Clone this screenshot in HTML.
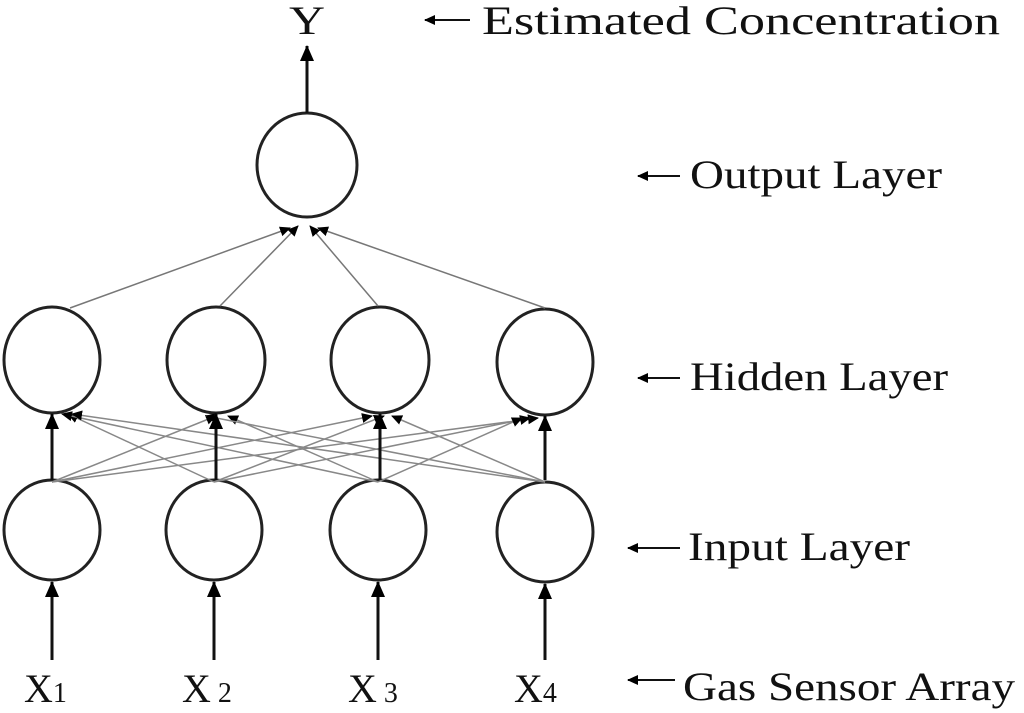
<!DOCTYPE html>
<html><head><style>
body{margin:0;background:#fff;}
svg{display:block;}
text{font-family:"Liberation Serif",serif;fill:#111;}
</style></head><body>
<svg width="1024" height="713" viewBox="0 0 1024 713" xmlns="http://www.w3.org/2000/svg">
<defs>
<marker id="a" markerWidth="11" markerHeight="10" refX="10" refY="5" orient="auto" markerUnits="userSpaceOnUse"><path d="M0,0 L11,5 L0,10 z" fill="#000"/></marker>
<marker id="b" markerWidth="16" markerHeight="14" refX="15" refY="7" orient="auto" markerUnits="userSpaceOnUse"><path d="M0,0 L16,7 L0,14 z" fill="#000"/></marker>
</defs>
<g fill="none" stroke="#222" stroke-width="3">
<ellipse cx="307" cy="165" rx="50" ry="52"/>
<ellipse cx="52" cy="360" rx="48" ry="53"/>
<ellipse cx="216" cy="360" rx="49" ry="53"/>
<ellipse cx="380" cy="360" rx="49" ry="53"/>
<ellipse cx="545" cy="362" rx="48" ry="53"/>
<ellipse cx="52" cy="530" rx="48" ry="50"/>
<ellipse cx="214" cy="530" rx="48" ry="50"/>
<ellipse cx="378" cy="530" rx="48" ry="50"/>
<ellipse cx="545" cy="532" rx="48" ry="50"/>
</g>
<g stroke="#777" stroke-width="1.5" marker-end="url(#a)">
<line x1="70" y1="308" x2="290" y2="228"/>
<line x1="220" y1="306" x2="298" y2="226"/>
<line x1="378" y1="306" x2="310" y2="226"/>
<line x1="545" y1="308" x2="318" y2="228"/>
</g>
<g stroke="#888" stroke-width="1.5" marker-end="url(#a)">
<line x1="52" y1="482" x2="216" y2="416"/>
<line x1="52" y1="482" x2="372" y2="416"/>
<line x1="52" y1="482" x2="538" y2="418"/>
<line x1="214" y1="482" x2="68" y2="414"/>
<line x1="214" y1="482" x2="384" y2="416"/>
<line x1="214" y1="482" x2="530" y2="418"/>
<line x1="378" y1="482" x2="62" y2="414"/>
<line x1="378" y1="482" x2="228" y2="416"/>
<line x1="378" y1="482" x2="522" y2="418"/>
<line x1="545" y1="482" x2="72" y2="414"/>
<line x1="545" y1="482" x2="206" y2="416"/>
<line x1="545" y1="482" x2="392" y2="416"/>
</g>
<g stroke="#111" stroke-width="3" marker-end="url(#b)">
<line x1="52" y1="480" x2="52" y2="414"/>
<line x1="216" y1="480" x2="216" y2="414"/>
<line x1="380" y1="480" x2="380" y2="414"/>
<line x1="545" y1="480" x2="545" y2="416"/>
<line x1="52" y1="660" x2="52" y2="582"/>
<line x1="214" y1="660" x2="214" y2="582"/>
<line x1="378" y1="660" x2="378" y2="582"/>
<line x1="545" y1="660" x2="545" y2="584"/>
<line x1="307" y1="113" x2="307" y2="46"/>
</g>
<g stroke="#111" stroke-width="2" marker-end="url(#a)">
<line x1="470" y1="20" x2="425" y2="20"/>
<line x1="680" y1="176" x2="638" y2="176"/>
<line x1="680" y1="378" x2="638" y2="378"/>
<line x1="680" y1="548" x2="628" y2="548"/>
<line x1="675" y1="680" x2="628" y2="680"/>
</g>
<g font-size="40">
<text x="289" y="34" textLength="36" lengthAdjust="spacingAndGlyphs">Y</text>
<text x="482" y="34" textLength="518" lengthAdjust="spacingAndGlyphs">Estimated Concentration</text>
<text x="690" y="188" textLength="252" lengthAdjust="spacingAndGlyphs">Output Layer</text>
<text x="690" y="390" textLength="258" lengthAdjust="spacingAndGlyphs">Hidden Layer</text>
<text x="688" y="560" textLength="222" lengthAdjust="spacingAndGlyphs">Input Layer</text>
<text x="683" y="700" textLength="332" lengthAdjust="spacingAndGlyphs">Gas Sensor Array</text>
<text x="24" y="702">X<tspan font-size="28">1</tspan></text>
<text x="182" y="702">X<tspan font-size="28"> 2</tspan></text>
<text x="348" y="702">X<tspan font-size="28"> 3</tspan></text>
<text x="514" y="702">X<tspan font-size="28">4</tspan></text>
</g>
</svg>
</body></html>
